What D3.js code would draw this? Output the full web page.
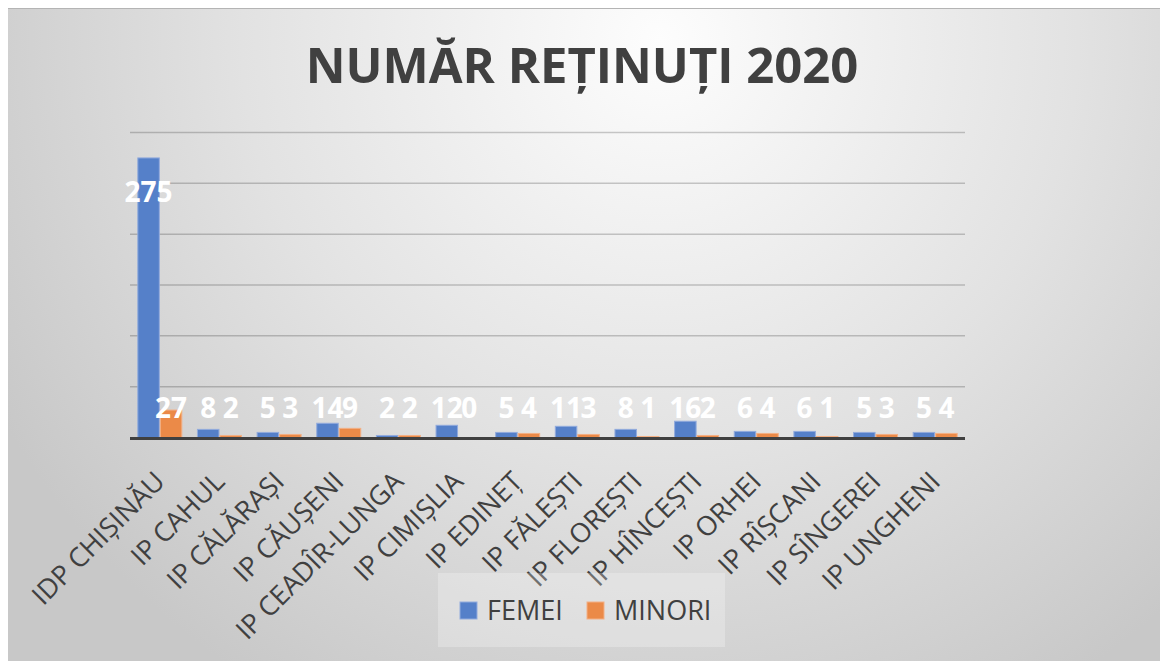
<!DOCTYPE html>
<html>
<head>
<meta charset="utf-8">
<script src="https://cdn.jsdelivr.net/npm/d3@7"></script>
<style>
  html, body { margin: 0; padding: 0; background: #fff; }
  svg { display: block; font-family: 'Open Sans', sans-serif; }
</style>
</head>
<body>
<svg id="chart" width="1160" height="661"></svg>
<script>
const categories = [
  'IDP CHIȘINĂU', 'IP CAHUL', 'IP CĂLĂRAȘI', 'IP CĂUȘENI', 'IP CEADÎR-LUNGA',
  'IP CIMIȘLIA', 'IP EDINEȚ', 'IP FĂLEȘTI', 'IP FLOREȘTI', 'IP HÎNCEȘTI',
  'IP ORHEI', 'IP RÎȘCANI', 'IP SÎNGEREI', 'IP UNGHENI'
]
const femei = [275, 8, 5, 14, 2, 12, 5, 11, 8, 16, 6, 6, 5, 5]
const minori = [27, 2, 3, 9, 2, 0, 4, 3, 1, 2, 4, 1, 3, 4]
const seriesNames = ['FEMEI', 'MINORI']
const gridTicks = [0, 50, 100, 150, 200, 250, 300]

const TITLE = 'NUMĂR REȚINUȚI 2020'
const colors = { FEMEI: '#5580c9', MINORI: '#eb8a48' }
const strokes = { FEMEI: '#92abdd', MINORI: '#f3b085' }
const textColor = '#404040'

const svg = d3.select('#chart')
const margin = { left: 130, right: 195, top: 132, bottom: 223 }
const width = 1160
const height = 661

// Background with soft radial gradient
const defs = svg.append('defs')
const grad = defs.append('radialGradient')
  .attr('id', 'bg')
  .attr('gradientUnits', 'userSpaceOnUse')
  .attr('cx', 660).attr('cy', 40).attr('r', 760)
grad.append('stop').attr('offset', 0).attr('stop-color', '#fdfdfd')
grad.append('stop').attr('offset', 0.55).attr('stop-color', '#e2e2e2')
grad.append('stop').attr('offset', 1).attr('stop-color', '#c8c8c8')

svg.append('rect')
  .attr('x', 8).attr('y', 8)
  .attr('width', width - 8).attr('height', height - 8)
  .attr('fill', 'url(#bg)')
svg.append('line')
  .attr('x1', 8).attr('x2', width)
  .attr('y1', 8.5).attr('y2', 8.5)
  .attr('stroke', '#b4b4b4')

// Title
svg.append('text')
  .attr('x', 582).attr('y', 83)
  .attr('text-anchor', 'middle')
  .style('font-size', '49px')
  .style('font-weight', 700)
  .style('fill', textColor)
  .text(TITLE)

// Scales
const x0 = d3.scaleBand()
  .domain(categories)
  .range([margin.left, width - margin.right])
  .padding(0)
const x1 = d3.scaleBand()
  .domain(seriesNames)
  .range([0, x0.bandwidth()])
  .paddingInner(0)
  .paddingOuter(0.325)
const y = d3.scaleLinear()
  .domain([0, 300])
  .range([height - margin.bottom - 0.5, margin.top + 0.5])

// Gridlines
svg.append('g')
  .selectAll('line')
  .data(gridTicks.filter((t) => t > 0))
  .join('line')
  .attr('x1', margin.left).attr('x2', width - margin.right)
  .attr('y1', (d) => y(d)).attr('y2', (d) => y(d))
  .attr('stroke', '#000')
  .attr('stroke-opacity', 0.2)
  .attr('stroke-width', 1.5)

// Bars
const rows = categories.map((c, i) => ({
  cat: c,
  values: [{ s: 'FEMEI', v: femei[i] }, { s: 'MINORI', v: minori[i] }]
}))

const groups = svg.append('g')
  .selectAll('g')
  .data(rows)
  .join('g')
  .attr('transform', (d) => `translate(${x0(d.cat)},0)`)

groups.selectAll('rect')
  .data((d) => d.values)
  .join('rect')
  .attr('x', (d) => x1(d.s) + 0.5)
  .attr('width', x1.bandwidth() - 1)
  .attr('y', (d) => y(d.v))
  .attr('height', (d) => y(0) - y(d.v))
  .attr('fill', (d) => colors[d.s])
  .attr('stroke', (d) => strokes[d.s])
  .attr('stroke-width', 1)

// Axis baseline
svg.append('line')
  .attr('x1', margin.left).attr('x2', width - margin.right)
  .attr('y1', y(0) + 1).attr('y2', y(0) + 1)
  .attr('stroke', '#404040')
  .attr('stroke-width', 3)

// Data labels
groups.selectAll('text')
  .data((d) => d.values)
  .join('text')
  .attr('x', (d) => x1(d.s) + x1.bandwidth() / 2)
  .attr('y', (d) => Math.min(y(d.v) + 44, y(0) - 20))
  .attr('text-anchor', 'middle')
  .style('font-size', '28px')
  .style('font-weight', 700)
  .style('fill', '#fff')
  .text((d) => d.v)

// Category labels
svg.append('g')
  .selectAll('text')
  .data(categories)
  .join('text')
  .attr('transform', (d) => `translate(${x0(d) + x0.bandwidth() / 2},${y(0) + 39}) rotate(-45)`)
  .attr('dy', '0.35em')
  .attr('text-anchor', 'end')
  .style('font-size', '27px')
  .style('fill', textColor)
  .text((d) => d)

// Legend
const legend = svg.append('g')
legend.append('rect')
  .attr('x', 438).attr('y', 573)
  .attr('width', 287).attr('height', 74)
  .attr('fill', '#fff')
  .attr('fill-opacity', 0.25)

const legendItems = [
  { s: 'FEMEI', x: 460 },
  { s: 'MINORI', x: 587 }
]
const li = legend.selectAll('g.item')
  .data(legendItems)
  .join('g')
  .attr('class', 'item')
  .attr('transform', (d) => `translate(${d.x},602)`)
li.append('rect')
  .attr('width', 17).attr('height', 17)
  .attr('fill', (d) => colors[d.s])
  .attr('stroke', (d) => strokes[d.s])
li.append('text')
  .attr('x', 27).attr('y', 18)
  .style('font-size', '27px')
  .style('fill', textColor)
  .text((d) => d.s)
</script>
</body>
</html>
